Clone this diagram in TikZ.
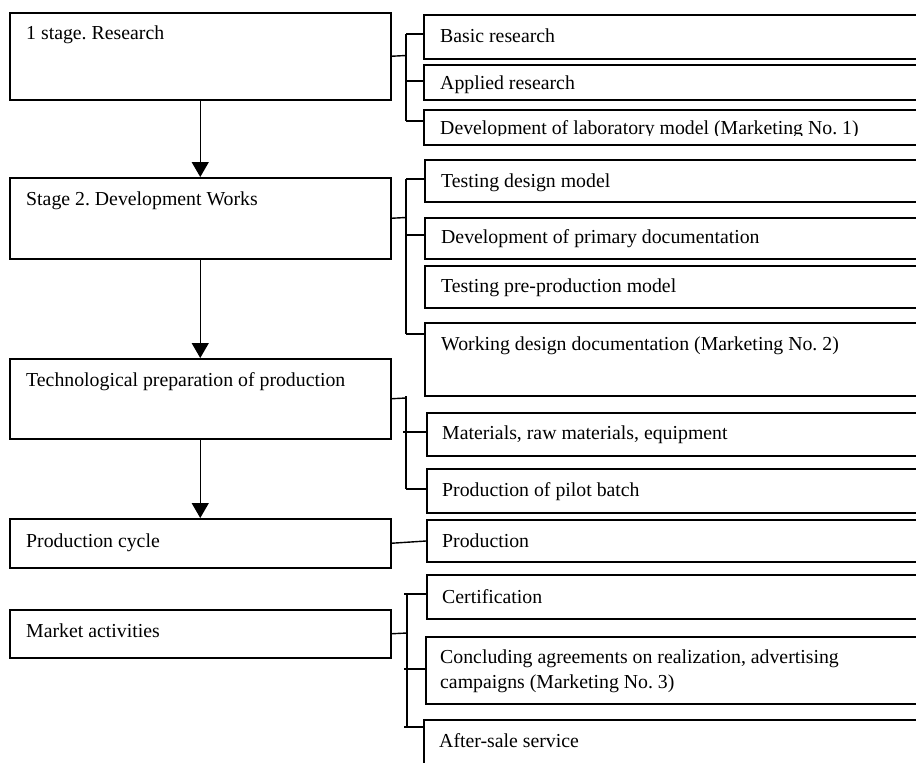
\documentclass[tikz,border=0pt]{standalone}
\usepackage{fontspec}
\setmainfont{Liberation Serif}
\usetikzlibrary{arrows.meta}
\frenchspacing
\tikzset{
  box/.style={draw=black, line width=1.5pt, rectangle, inner sep=0pt, anchor=north west},
  txt/.style={anchor=base west, inner sep=0pt, font=\fontsize{19.8}{25}\selectfont\frenchspacing, align=left},
  conn/.style={draw=black, line width=1.4pt},
  arr/.style={draw=black, line width=1.4pt, -{Triangle[width=17pt,length=15pt]}}
}
\begin{document}
\begin{tikzpicture}[x=1pt,y=-1pt]
\useasboundingbox (0,0) rectangle (916,763);
\clip (0,0) rectangle (916,763);
\fill[white] (0,0) rectangle (916,763);
% left boxes
\node[box, minimum width=381pt, minimum height=87pt] (L1) at (9,12) {};
\node[box, minimum width=381pt, minimum height=81pt] (L2) at (9,177) {};
\node[box, minimum width=381pt, minimum height=80pt] (L3) at (9,358) {};
\node[box, minimum width=381pt, minimum height=49pt] (L4) at (9,518) {};
\node[box, minimum width=381pt, minimum height=48pt] (L5) at (9,609) {};
\node[txt] (t1) at (26,39) {1 stage. Research};
\node[txt] (t2) at (26,205) {Stage 2. Development Works};
\node[txt] (t3) at (26,386) {Technological preparation of production};
\node[txt] (t4) at (26,547) {Production cycle};
\node[txt] (t5) at (26,637) {Market activities};
% right boxes
\node[box, minimum width=510pt, minimum height=44pt] (a1) at (423,14) {};
\node[box, minimum width=510pt, minimum height=35pt] (a2) at (423,64) {};
\node[box, minimum width=510pt, minimum height=35pt] (a3) at (423,109) {};
\node[box, minimum width=510pt, minimum height=42pt] (b1) at (424,159) {};
\node[box, minimum width=510pt, minimum height=41pt] (b2) at (424,217) {};
\node[box, minimum width=510pt, minimum height=42pt] (b3) at (424,265) {};
\node[box, minimum width=510pt, minimum height=73pt] (b4) at (424,322) {};
\node[box, minimum width=510pt, minimum height=43pt] (c1) at (426,412) {};
\node[box, minimum width=510pt, minimum height=44pt] (c2) at (426,468) {};
\node[box, minimum width=510pt, minimum height=42pt] (p1) at (426,519) {};
\node[box, minimum width=510pt, minimum height=44pt] (d1) at (426,574) {};
\node[box, minimum width=510pt, minimum height=67pt] (d2) at (425,636) {};
\node[box, minimum width=510pt, minimum height=70pt] (d3) at (423,719) {};
\node[txt] (ta1) at (440,42) {Basic research};
\node[txt] (ta2) at (440,89) {Applied research};
\begin{scope}
\clip (424,110) rectangle (930,135.5);
\node[txt] (ta3) at (440,134) {Development of laboratory model (Marketing No. 1)};
\end{scope}
\node[txt] (tb1) at (441,187) {Testing design model};
\node[txt] (tb2) at (441,243) {Development of primary documentation};
\node[txt] (tb3) at (441,292) {Testing pre-production model};
\node[txt] (tb4) at (441,350) {Working design documentation (Marketing No. 2)};
\node[txt] (tc1) at (442,439) {Materials, raw materials, equipment};
\node[txt] (tc2) at (442,496) {Production of pilot batch};
\node[txt] (tp1) at (442,547) {Production};
\node[txt] (td1) at (442,603) {Certification};
\node[txt] (td2) at (440,688) {Concluding agreements on realization, advertising\\campaigns (Marketing No. 3)};
\node[txt] (td3) at (439,747) {After-sale service};
% arrows
\draw[arr] (L1.south) -- (L2.north);
\draw[arr] (L2.south) -- (L3.north);
\draw[arr] (L3.south) -- (L4.north);
% bracket 1
\coordinate (j1) at (406,55.5);
\draw[conn] (L1.east) -- (j1);
\draw[conn] (406,34) -- (406,121);
\draw[conn] (406,34) -- (a1.west |- 0,34);
\draw[conn] (406,81) -- (a2.west |- 0,81);
\draw[conn] (406,121) -- (a3.west |- 0,121);
% bracket 2
\coordinate (j2) at (406,217.5);
\draw[conn] (L2.east) -- (j2);
\draw[conn] (406,179) -- (406,334);
\draw[conn] (406,179) -- (b1.west |- 0,179);
\draw[conn] (406,235) -- (b2.west |- 0,235);
\draw[conn] (406,334) -- (b4.west |- 0,334);
% bracket 3
\coordinate (j3) at (406,398);
\draw[conn] (L3.east) -- (j3);
\draw[conn] (406,396) -- (406,489);
\draw[conn] (403,432) -- (c1.west |- 0,432);
\draw[conn] (406,489) -- (c2.west |- 0,489);
% production
\draw[conn] (L4.east) -- (p1.west |- 0,541);
% bracket 5
\coordinate (j5) at (407,633);
\draw[conn] (L5.east) -- (j5);
\draw[conn] (407,594) -- (407,727);
\draw[conn] (404,594) -- (d1.west |- 0,594);
\draw[conn] (404,669) -- (d2.west |- 0,669);
\draw[conn] (404,727) -- (d3.west |- 0,727);
\end{tikzpicture}
\end{document}
